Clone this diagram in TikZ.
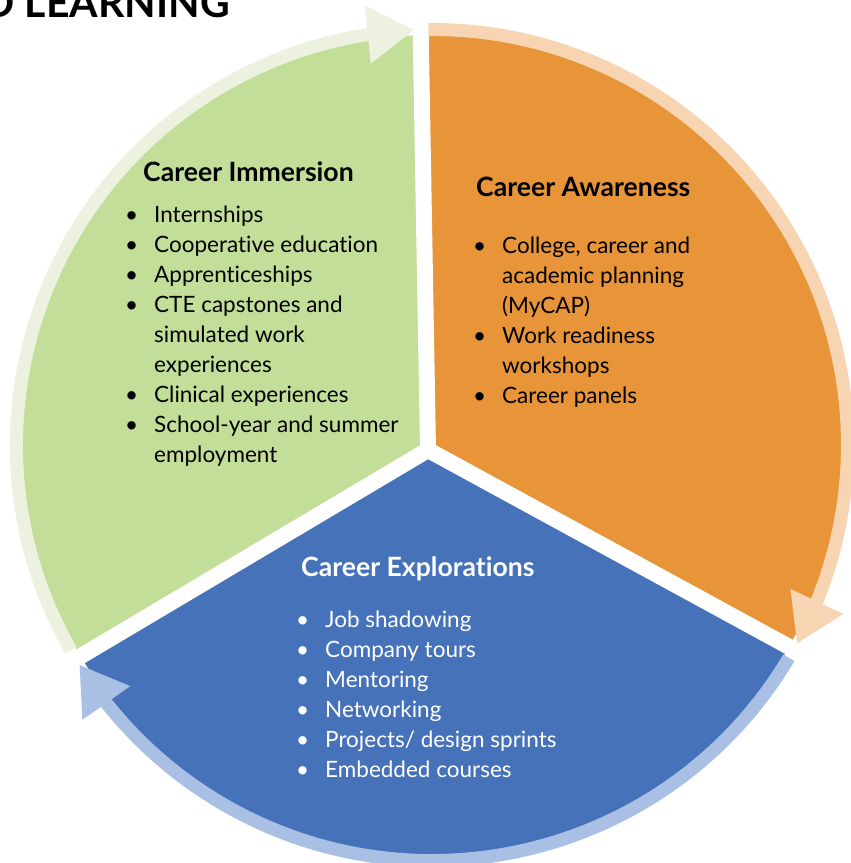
\documentclass[tikz,border=0pt]{standalone}
\usepackage{fontspec}
\setmainfont{Lato}[Ligatures=NoCommon]
\usetikzlibrary{arrows.meta,bending,calc,positioning}

\definecolor{immgreen}{RGB}{194,222,152}
\definecolor{immlight}{RGB}{236,242,223}
\definecolor{awaorange}{RGB}{232,148,56}
\definecolor{awalight}{RGB}{248,213,178}
\definecolor{expblue}{RGB}{70,114,185}
\definecolor{explight}{RGB}{169,192,228}

\begin{document}
\begin{tikzpicture}[
    x=1pt, y=1pt,
    gapline/.style={white, line width=16pt},
    band/.style={line width=13pt, -{Triangle[length=47pt, width=55pt]}},
    heading/.style={font=\fontsize{26.6}{30}\selectfont\bfseries, inner sep=0pt, anchor=base west},
    itemlist/.style={font=\fontsize{22.5}{30}\selectfont, inner sep=0pt, anchor=base west},
    title/.style={font=\fontsize{41}{48}\selectfont\bfseries, inner sep=0pt, anchor=base east}
]
    \useasboundingbox (0,0) rectangle (851,863);
    \coordinate (c) at (432,418);
    \coordinate (j) at (428,413);

    % Sectors
    \fill[immgreen] (c) -- ++(91:410) arc[start angle=91, end angle=211, radius=410] -- cycle;
    \fill[awaorange] (c) -- ++(91:410) arc[start angle=91, end angle=-29, radius=410] -- cycle;
    \fill[expblue] (c) -- ++(-29:410) arc[start angle=-29, end angle=-149, radius=410] -- cycle;

    % Gaps
    \draw[gapline] (j) -- ++(91:470);
    \draw[gapline] (j) -- ++(-28.6:470);
    \draw[gapline] (j) -- ++(210.7:470);

    % Cycle arrows
    \draw[band, immlight] ($(c)+(209.6:415.5)$) arc[start angle=209.6, end angle=92.4, radius=415.5];
    \draw[band, awalight] ($(c)+(90.5:415.5)$) arc[start angle=90.5, end angle=-28.6, radius=415.5];
    \draw[band, explight] ($(c)+(-30.8:415.5)$) arc[start angle=-30.8, end angle=-148.1, radius=415.5];

    % Title
    \node[title] (title) at (230,845) {D LEARNING};

    % Career Immersion
    \node[heading] (immhead) at (143,681) {Career Immersion};
    \node[itemlist] (immlist) at ($(immhead.base west)+(-18,-40.5)$) {%
        \begin{tabular}[t]{@{}p{29pt}@{}l@{}}
        \textbullet & Internships\\
        \textbullet & Cooperative education\\
        \textbullet & Apprenticeships\\
        \textbullet & CTE capstones and\\
                    & simulated work\\
                    & experiences\\
        \textbullet & Clinical experiences\\
        \textbullet & School-year and summer\\
                    & employment
        \end{tabular}};

    % Career Awareness
    \node[heading] (awahead) at (476,666) {Career Awareness};
    \node[itemlist] (awalist) at ($(awahead.base west)+(-3,-56.5)$) {%
        \begin{tabular}[t]{@{}p{29pt}@{}l@{}}
        \textbullet & College, career and\\
                    & academic planning\\
                    & (MyCAP)\\
        \textbullet & Work readiness\\
                    & workshops\\
        \textbullet & Career panels
        \end{tabular}};

    % Career Explorations
    \node[heading, white] (exphead) at (301,286) {Career Explorations};
    \node[itemlist, white] (explist) at ($(exphead.base west)+(-5,-50.5)$) {%
        \begin{tabular}[t]{@{}p{29pt}@{}l@{}}
        \textbullet & Job shadowing\\
        \textbullet & Company tours\\
        \textbullet & Mentoring\\
        \textbullet & Networking\\
        \textbullet & Projects/ design sprints\\
        \textbullet & Embedded courses
        \end{tabular}};
\end{tikzpicture}
\end{document}
